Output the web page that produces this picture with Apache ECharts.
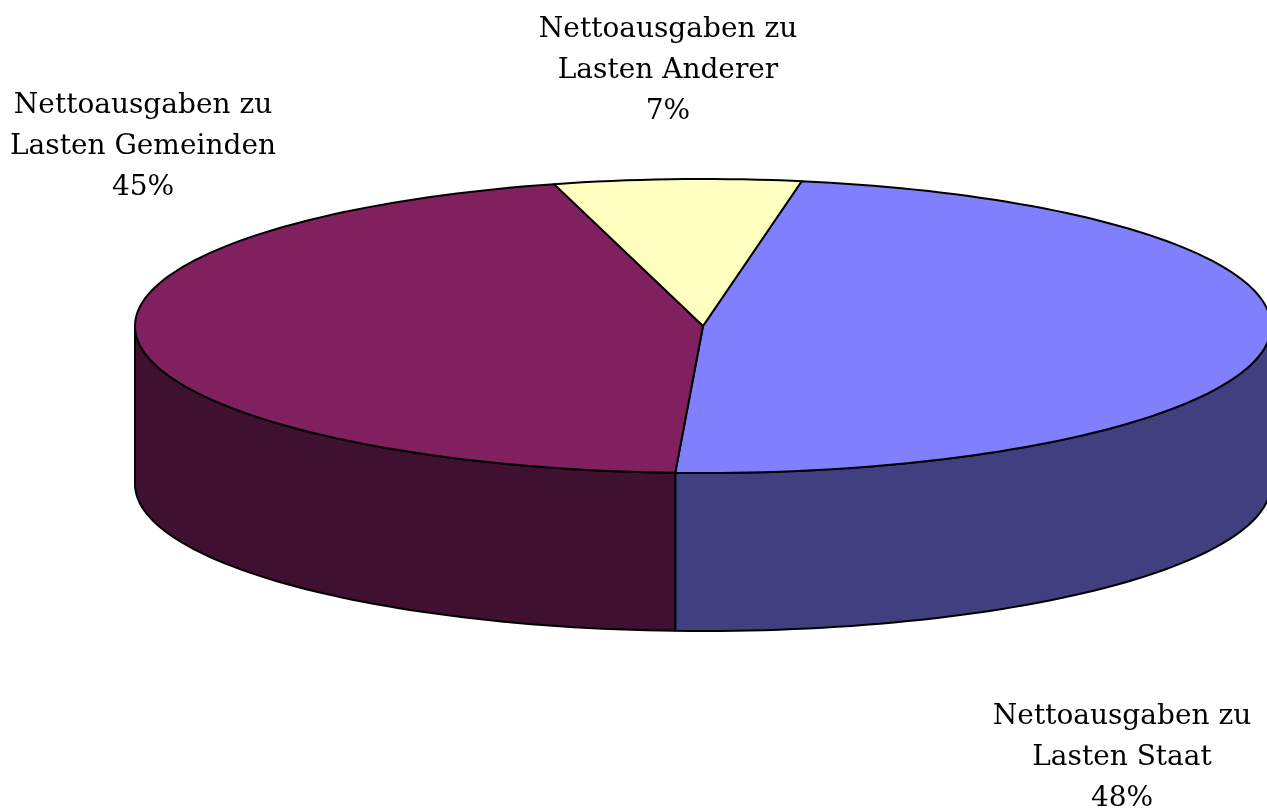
<!DOCTYPE html>
<html>
<head>
<meta charset="utf-8">
<script src="https://cdn.jsdelivr.net/npm/echarts@6/dist/echarts.min.js"></script>
<style>
  html, body { margin: 0; padding: 0; background: #fff; }
  #main { width: 1267px; height: 808px; }
</style>
</head>
<body>
<div id="main"></div>
<script>
// data
var categories = ['Lasten Staat', 'Lasten Gemeinden', 'Lasten Anderer'];
var prefix = 'Nettoausgaben zu';
var values = [48, 45, 7];

// look
var topColors = ['#8080ff', '#80205f', '#ffffc0'];
var sideColors = ['#404080', '#401030', '#80805f'];
var labelPos = [[1122, 758], [143, 147], [668, 71]];

var cx = 703, cy = 326, rx = 568, ry = 147, depth = 158;
var startDeg = 10;

var total = values.reduce(function (a, b) { return a + b; }, 0);

function sliceRange(i) {
    var before = 0;
    for (var k = 0; k < i; k++) before += values[k];
    var a1 = startDeg + before / total * 360;
    var a2 = a1 + values[i] / total * 360;
    return [a1, a2];
}

// angle measured clockwise from 12 o'clock
function pt(deg, dy) {
    var r = deg * Math.PI / 180;
    return [cx + rx * Math.sin(r), cy - ry * Math.cos(r) + (dy || 0)];
}

function arc(a1, a2, dy) {
    var pts = [];
    var n = Math.max(2, Math.ceil(Math.abs(a2 - a1) / 1.5));
    for (var j = 0; j <= n; j++) pts.push(pt(a1 + (a2 - a1) * j / n, dy));
    return pts;
}

var lineStyle = { stroke: '#000', lineWidth: 2, lineJoin: 'round' };

function renderWall(params, api) {
    var i = params.dataIndex;
    var r = sliceRange(i);
    var children = [];
    // front half of the ellipse is 90..270 (and 450..630 after wrap)
    [[90, 270], [450, 630]].forEach(function (w) {
        var a1 = Math.max(r[0], w[0]), a2 = Math.min(r[1], w[1]);
        if (a2 <= a1) return;
        var top = arc(a1, a2, 0);
        var bottom = arc(a2, a1, depth);
        children.push({
            type: 'polygon',
            shape: { points: top.concat(bottom) },
            style: Object.assign({ fill: sideColors[i] }, lineStyle)
        });
    });
    return { type: 'group', children: children };
}

function renderTop(params, api) {
    var i = params.dataIndex;
    var r = sliceRange(i);
    var pts = [[cx, cy]].concat(arc(r[0], r[1], 0));
    var pct = Math.round(api.value(0) / total * 100);
    return {
        type: 'group',
        children: [{
            type: 'polygon',
            shape: { points: pts },
            style: Object.assign({ fill: topColors[i] }, lineStyle)
        }, {
            type: 'text',
            style: {
                text: prefix + '\n' + categories[i] + '\n' + pct + '%',
                x: labelPos[i][0],
                y: labelPos[i][1],
                align: 'center',
                verticalAlign: 'middle',
                fill: '#000',
                fontFamily: 'DejaVu Serif',
                fontSize: 28,
                lineHeight: 41
            }
        }]
    };
}

var chart = echarts.init(document.getElementById('main'));
chart.setOption({
    animation: false,
    series: [{
        type: 'custom',
        coordinateSystem: 'none',
        renderItem: renderWall,
        data: values.map(function (v) { return [v]; }),
        z: 1
    }, {
        type: 'custom',
        coordinateSystem: 'none',
        renderItem: renderTop,
        data: values.map(function (v) { return [v]; }),
        z: 2
    }]
});
</script>
</body>
</html>
